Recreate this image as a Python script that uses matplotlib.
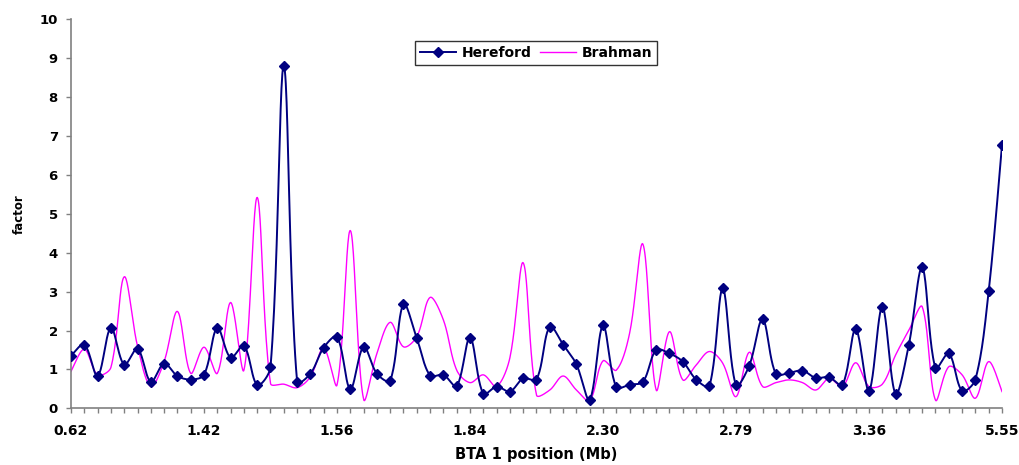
import numpy as np
import matplotlib
matplotlib.use("Agg")
import matplotlib.pyplot as plt
from matplotlib.lines import Line2D

# ---- data ----
hereford = [1.35, 1.64, 0.83, 2.07, 1.12, 1.53, 0.68, 1.15, 0.83, 0.74,
            0.86, 2.07, 1.30, 1.61, 0.60, 1.06, 8.80, 0.68, 0.89, 1.56,
            1.84, 0.49, 1.58, 0.89, 0.71, 2.68, 1.80, 0.84, 0.86, 0.57,
            1.82, 0.37, 0.56, 0.43, 0.77, 0.74, 2.10, 1.64, 1.13, 0.22,
            2.13, 0.54, 0.61, 0.68, 1.50, 1.41, 1.20, 0.74, 0.57, 3.08,
            0.59, 1.10, 2.29, 0.88, 0.91, 0.97, 0.78, 0.80, 0.60, 2.04,
            0.45, 2.61, 0.37, 1.64, 3.62, 1.03, 1.41, 0.45, 0.74, 3.02, 6.77]

brahman = [0.95, 1.52, 0.86, 1.05, 3.38, 1.60, 0.56, 1.20, 2.49, 0.90,
           1.57, 0.90, 2.72, 0.98, 5.42, 0.64, 0.62, 0.53,
           0.81, 1.55, 0.60, 4.57, 0.23, 1.41, 2.21, 1.58, 1.84, 2.85,
           2.27, 0.98, 0.66, 0.86, 0.56, 1.30, 3.74,
           0.34, 0.47, 0.83, 0.47, 0.20, 1.22, 0.98, 1.93, 4.22, 0.47,
           1.97, 0.73, 1.11, 1.46, 1.16, 0.30, 1.44,
           0.56, 0.66, 0.73, 0.66, 0.47, 0.77, 0.56, 1.17, 0.56, 0.62,
           1.37, 2.01, 2.61, 0.21, 1.07, 0.86, 0.26, 1.20, 0.43]

tick_labels = ['0.62', '1.42', '1.56', '1.84', '2.30', '2.79', '3.36', '5.55']
label_step = 10
series_names = ['Hereford', 'Brahman']

# axes geometry in pixels (figure 1020 x 465)
AX_LEFT, AX_BOTTOM, AX_W, AX_H = 71, 56.7, 931, 389
Y_MAX = 10


def smooth(y, n=24, s=1.0 / 3.0):
    """Excel-like smoothed line: Bezier through each point, arms scaled by
    neighbouring segment lengths measured in screen pixels."""
    y = np.asarray(y, float)
    x = np.arange(len(y), dtype=float)
    sx = AX_W / (len(y) - 1)
    sy = AX_H / Y_MAX
    P = np.column_stack([x * sx, y * sy])
    m = len(P)
    d = np.hypot(*np.diff(P, axis=0).T)  # segment lengths
    T = np.zeros_like(P)
    for i in range(m):
        a = P[max(i - 1, 0)]
        b = P[min(i + 1, m - 1)]
        T[i] = b - a
    t = np.linspace(0, 1, n, endpoint=False)[:, None]
    pts = []
    for i in range(m - 1):
        dprev = d[i - 1] if i > 0 else d[i]
        dnext = d[i + 1] if i + 1 < m - 1 else d[i]
        c1 = P[i] + T[i] * s * d[i] / (dprev + d[i])
        c2 = P[i + 1] - T[i + 1] * s * d[i] / (d[i] + dnext)
        B = ((1 - t) ** 3) * P[i] + 3 * ((1 - t) ** 2) * t * c1 \
            + 3 * (1 - t) * t ** 2 * c2 + t ** 3 * P[i + 1]
        pts.append(B)
    pts.append(P[-1:])
    pts = np.vstack(pts)
    return pts[:, 0] / sx, pts[:, 1] / sy


plt.rcParams['font.family'] = ['DejaVu Sans']

fig = plt.figure(figsize=(10.2, 4.65), dpi=100)
ax = fig.add_axes([AX_LEFT / 1020, AX_BOTTOM / 465, AX_W / 1020, AX_H / 465])

navy = '#000080'
magenta = '#FF00FF'

x = np.arange(len(hereford))
bx, by = smooth(brahman)
ax.plot(bx, by, color=magenta, lw=1.0, zorder=2)
hx, hy = smooth(hereford)
ax.plot(hx, hy, color=navy, lw=1.4, zorder=3)
ax.plot(x, hereford, ls='none', marker='D', ms=5, color=navy, zorder=4)

ax.set_xlim(0, len(hereford) - 1)
ax.set_ylim(0, Y_MAX)
ax.set_yticks(range(0, 11))
ax.set_yticklabels([str(v) for v in range(0, 11)], fontsize=9.5, fontweight='bold')

major = list(range(0, len(hereford), label_step))
ax.set_xticks(major)
ax.set_xticklabels(tick_labels, fontsize=10, fontweight='bold')
ax.set_xticks([i for i in x if i not in major], minor=True)

for s in ['top', 'right']:
    ax.spines[s].set_visible(False)
for s in ['left', 'bottom']:
    ax.spines[s].set_color('#808080')
    ax.spines[s].set_linewidth(1.2)
ax.tick_params(axis='both', which='both', direction='out', length=3.5, width=1, color='#808080')
ax.tick_params(axis='x', which='major', pad=8)
ax.tick_params(axis='y', pad=6)

ax.set_xlabel('BTA 1 position (Mb)', fontsize=10.5, fontweight='bold', labelpad=6)
ax.set_ylabel('factor', fontsize=8.5, fontweight='bold', labelpad=10)

handles = [Line2D([], [], color=navy, lw=1.4, marker='D', ms=5),
           Line2D([], [], color=magenta, lw=1.0)]
leg = ax.legend(handles, series_names, loc='upper left', bbox_to_anchor=(0.362, 0.962),
                ncol=2, frameon=True, fancybox=False, edgecolor='black',
                prop={'weight': 'bold', 'size': 10}, handlelength=2.6,
                handletextpad=0.4, columnspacing=0.6, borderpad=0.35, numpoints=1)
leg.get_frame().set_linewidth(1.0)

fig.savefig('out.png', dpi=100)
